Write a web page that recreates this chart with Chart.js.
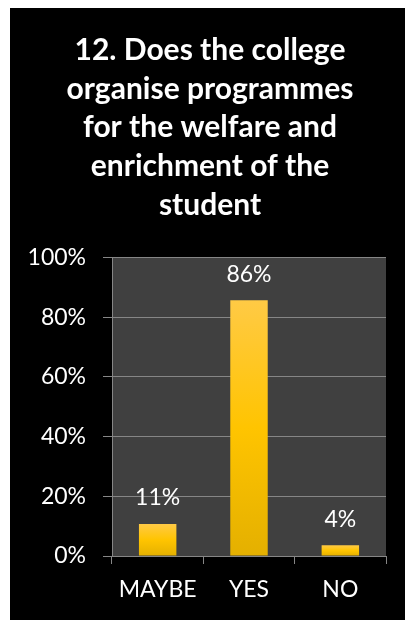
<!DOCTYPE html>
<html>
<head>
<meta charset="utf-8">
<script src="https://cdn.jsdelivr.net/npm/chart.js@4/dist/chart.umd.min.js"></script>
<style>
html,body{margin:0;padding:0;background:#fff;}
#wrap{width:405px;height:620px;position:relative;}
</style>
</head>
<body>
<div id="wrap"><canvas id="c" width="405" height="620"></canvas></div>
<script>
const categories = ['MAYBE', 'YES', 'NO'];
const values = [10.7, 85.7, 3.6];
const dataLabels = ['11%', '86%', '4%'];
const titleLines = ['12. Does the college', 'organise programmes', 'for the welfare and', 'enrichment of the', 'student'];
const yTicks = [0, 20, 40, 60, 80, 100];

const GRID = '#868686';

const bgPlugin = {
  id: 'bg',
  afterLayout(chart) {
    const t = chart.titleBlock;
    if (t) { t.left = 22; t.right = 398; t.width = t.right - t.left; }
  },
  beforeDraw(chart) {
    const c = chart.ctx;
    c.save();
    c.fillStyle = '#ffffff';
    c.fillRect(0, 0, chart.width, chart.height);
    c.fillStyle = '#000000';
    c.fillRect(10, 8, chart.width - 10, chart.height - 8);
    const a = chart.chartArea;
    c.fillStyle = '#404040';
    c.fillRect(a.left, a.top, a.right - a.left, a.bottom - a.top);
    c.restore();
  }
};

const labelPlugin = {
  id: 'vlabels',
  afterDatasetsDraw(chart) {
    const c = chart.ctx;
    const meta = chart.getDatasetMeta(0);
    c.save();
    c.fillStyle = '#ffffff';
    c.font = '23px Lato';
    c.textAlign = 'center';
    c.textBaseline = 'middle';
    meta.data.forEach((el, i) => {
      c.fillText(dataLabels[i], el.x, el.y - 26);
    });
    c.restore();
  }
};

function barGradient(ctx) {
  const chart = ctx.chart;
  const y = chart.scales && chart.scales.y;
  if (!y || ctx.dataIndex === undefined) return '#FFC000';
  const top = y.getPixelForValue(values[ctx.dataIndex]);
  const base = y.getPixelForValue(0);
  if (!isFinite(top) || !isFinite(base) || top === base) return '#FFC000';
  const g = chart.ctx.createLinearGradient(0, top, 0, base);
  g.addColorStop(0, '#FFCA45');
  g.addColorStop(0.5, '#FFC400');
  g.addColorStop(1, '#E4B000');
  return g;
}

new Chart(document.getElementById('c'), {
  type: 'bar',
  data: {
    labels: categories,
    datasets: [{
      data: values,
      backgroundColor: barGradient,
      borderWidth: 0,
      categoryPercentage: 1,
      barPercentage: 0.41
    }]
  },
  options: {
    responsive: false,
    animation: false,
    devicePixelRatio: 1,
    layout: { padding: { left: 10, right: 19, top: 0, bottom: 0 } },
    plugins: {
      legend: { display: false },
      tooltip: { enabled: false },
      title: {
        display: true,
        text: titleLines,
        color: '#ffffff',
        font: { family: 'Lato', size: 30, weight: 'bold', lineHeight: 1.29 },
        padding: { top: 31, bottom: 33 }
      }
    },
    scales: {
      x: {
        offset: true,
        grid: { display: true, drawOnChartArea: false, drawTicks: true, tickLength: 8, color: GRID, offset: true },
        border: { display: true, color: GRID },
        ticks: { color: '#ffffff', font: { family: 'Lato', size: 23 }, padding: 12, maxRotation: 0 },
        afterFit(s) { s.height = 64; }
      },
      y: {
        min: 0, max: 100,
        afterBuildTicks(s) { s.ticks = yTicks.map(v => ({ value: v })); },
        grid: { color: GRID, tickLength: 9, drawTicks: true },
        border: { display: true, color: GRID },
        ticks: { color: '#ffffff', font: { family: 'Lato', size: 23 }, padding: 17, callback: v => v + '%' },
        afterFit(s) { s.width = 102; }
      }
    }
  },
  plugins: [bgPlugin, labelPlugin]
});
</script>
</body>
</html>
